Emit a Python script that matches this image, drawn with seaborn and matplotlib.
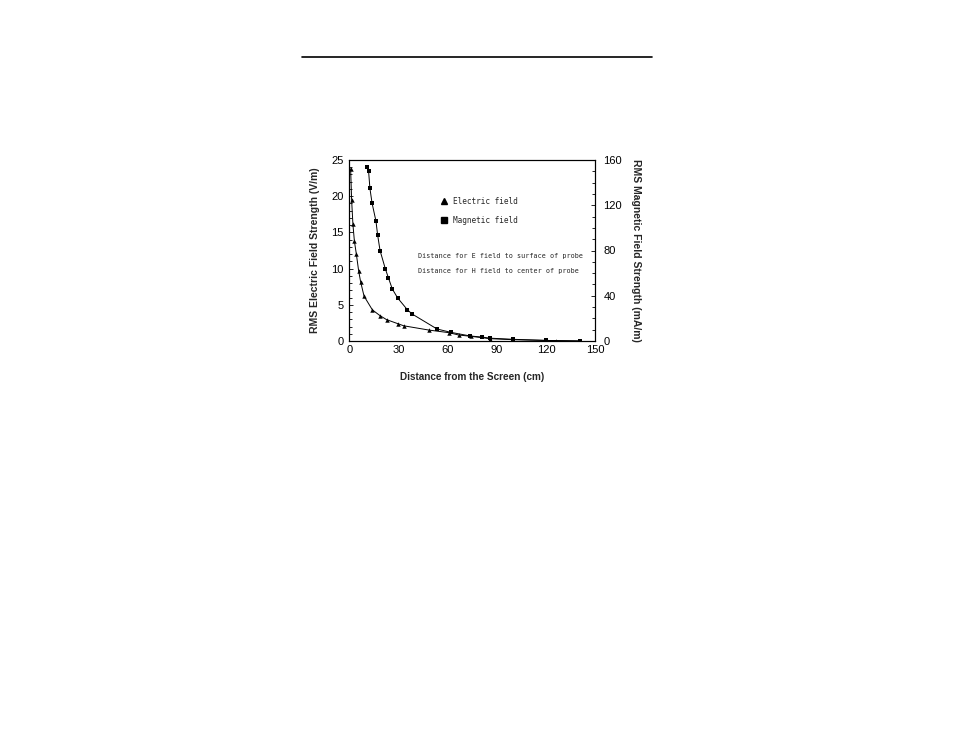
import numpy as np
import pandas as pd
import matplotlib
matplotlib.use("Agg")
import matplotlib.pyplot as plt
from matplotlib.lines import Line2D
from matplotlib.ticker import MultipleLocator
import seaborn as sns

sns.set_style("white")
plt.rcParams["font.family"] = ["Liberation Sans", "DejaVu Sans"]

# ------------------------------------------------------------
# data
# ------------------------------------------------------------
e_dist = [0.4, 1.0, 1.8, 2.7, 3.9, 5.3, 6.5, 8.6, 13.7, 18.4, 22.4,
          29.2, 32.9, 48.6, 60.6, 66.5, 73.9, 85.7, 100, 126, 141]
e_field = [23.8, 19.5, 16.1, 13.8, 12.0, 9.7, 8.2, 6.2, 4.3, 3.5, 2.95,
           2.4, 2.1, 1.5, 1.15, 0.83, 0.65, 0.32, 0.18, 0.05, 0.0]

h_dist = [10.6, 11.4, 12.2, 13.5, 15.9, 16.9, 18.4, 21.6, 23.5, 25.9, 29.2,
          35.1, 38.0, 53.3, 61.6, 73.7, 80.6, 85.7, 99.6, 120, 141]
h_field = [154, 150, 135, 122, 106, 94, 80, 64, 56, 46, 38,
           27.7, 23.9, 10.6, 7.7, 4.4, 3.5, 2.5, 1.5, 0.5, 0.0]

df_e = pd.DataFrame({"dist": e_dist, "val": e_field})
df_h = pd.DataFrame({"dist": h_dist, "val": h_field})

# ------------------------------------------------------------
# figure
# ------------------------------------------------------------
fig = plt.figure(figsize=(9.54, 7.38), dpi=100)
ax = fig.add_axes([349 / 954, 1 - 341 / 738, 246 / 954, 181 / 738])
ax2 = ax.twinx()

sns.lineplot(data=df_e, x="dist", y="val", ax=ax, color="black",
             marker="^", markersize=3.2, linewidth=0.7, markeredgewidth=0)
sns.lineplot(data=df_h, x="dist", y="val", ax=ax2, color="black",
             marker="s", markersize=2.4, linewidth=0.7, markeredgewidth=0)

ax.set_xlim(-0.6, 150)
ax.set_ylim(0, 25)
ax2.set_ylim(0, 160)

ax.xaxis.set_major_locator(MultipleLocator(30))
ax.xaxis.set_minor_locator(MultipleLocator(10))
ax.yaxis.set_major_locator(MultipleLocator(5))
ax.yaxis.set_minor_locator(MultipleLocator(1))
ax2.yaxis.set_major_locator(MultipleLocator(40))
ax2.yaxis.set_minor_locator(MultipleLocator(10))

for a in (ax, ax2):
    for s in a.spines.values():
        s.set_linewidth(0.8)
        s.set_color("black")
    a.tick_params(which="both", direction="in", labelsize=8, colors="black",
                  width=0.6)
    a.tick_params(which="major", length=3)
    a.tick_params(which="minor", length=2)
ax.tick_params(axis="x", which="both", top=False, pad=3)
ax.tick_params(axis="y", which="both", right=False, pad=4)
ax2.tick_params(axis="y", which="both", pad=6)

ax.set_xlabel("Distance from the Screen (cm)", fontsize=7.2,
              fontweight="bold", labelpad=12)
ax.set_ylabel("RMS Electric Field Strength (V/m)", fontsize=7.5,
              fontweight="bold", labelpad=8)
ax2.set_ylabel("RMS Magnetic Field Strength (mA/m)", fontsize=7.5,
               fontweight="bold", rotation=-90, labelpad=14)

mono = "DejaVu Sans Mono"
handles = [Line2D([], [], color="black", marker="^", linestyle="none", markersize=4),
           Line2D([], [], color="black", marker="s", linestyle="none", markersize=4)]
leg = ax.legend(handles, ["Electric field", "Magnetic field"], loc="upper left",
                bbox_to_anchor=(0.36, 0.815), frameon=False, handlelength=0.8,
                handletextpad=0.8, labelspacing=1.3, borderaxespad=0,
                prop={"family": mono, "size": 5.6})

ax.text(0.28, 0.46, "Distance for E field to surface of probe",
        transform=ax.transAxes, family=mono, fontsize=4.9)
ax.text(0.28, 0.375, "Distance for H field to center of probe",
        transform=ax.transAxes, family=mono, fontsize=4.9)

# rule across the top of the page
fig.add_artist(Line2D([302 / 954, 652 / 954], [1 - 57 / 738, 1 - 57 / 738],
                      color="black", linewidth=1.2))

fig.savefig("out.png", dpi=100)
